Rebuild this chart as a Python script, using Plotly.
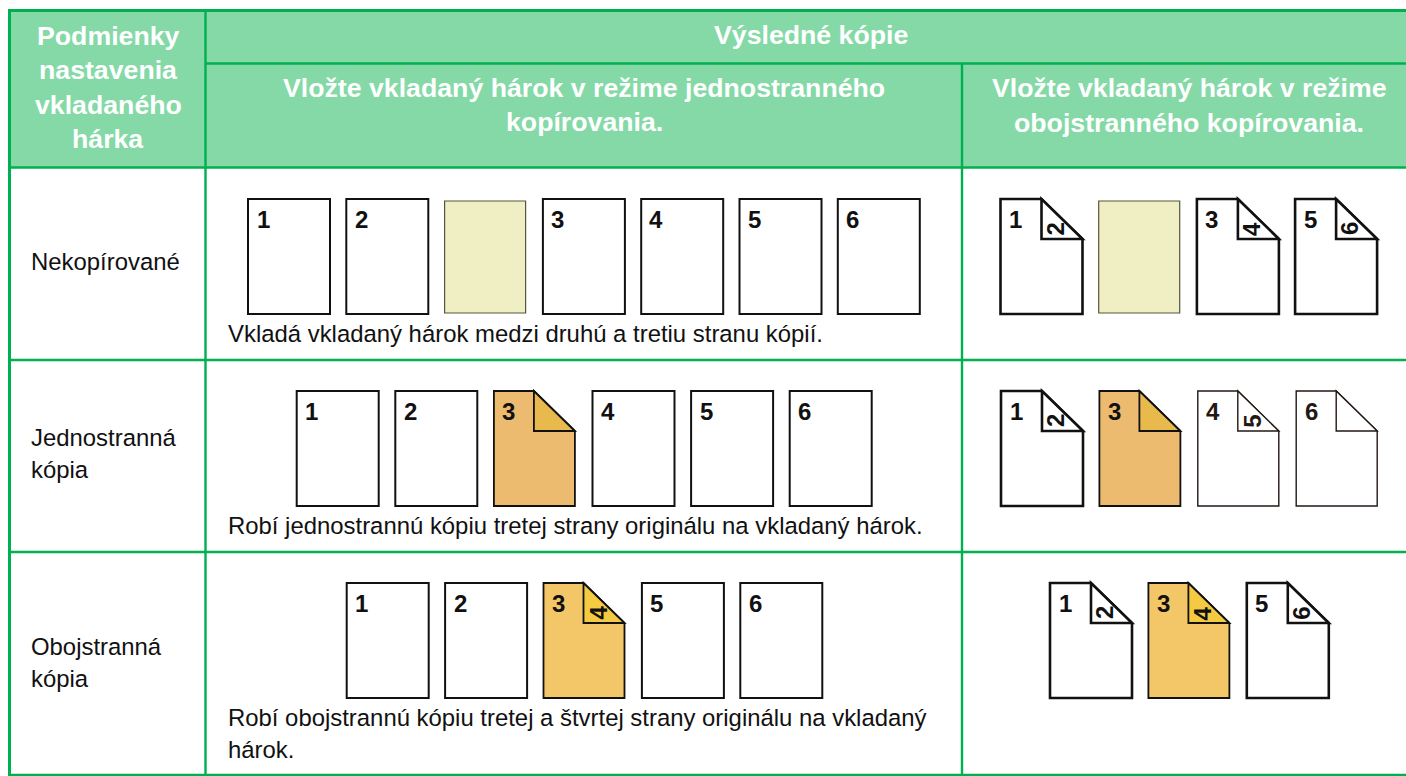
import plotly.graph_objects as go

FONT = "Liberation Sans"
GREEN = "#00B050"
HEAD_BG = "#84D9A7"
INK = "#111111"
SOFT_INK = "#231815"

# ---- text content ----
corner_lines = ["Podmienky", "nastavenia", "vkladaného", "hárka"]
top_header = "Výsledné kópie"
single_header = ["Vložte vkladaný hárok v režime jednostranného", "kopírovania."]
duplex_header = ["Vložte vkladaný hárok v režime", "obojstranného kopírovania."]
row_labels = [["Nekopírované"], ["Jednostranná", "kópia"], ["Obojstranná", "kópia"]]
row_captions = [
    ["Vkladá vkladaný hárok medzi druhú a tretiu stranu kópií."],
    ["Robí jednostrannú kópiu tretej strany originálu na vkladaný hárok."],
    ["Robí obojstrannú kópiu tretej a štvrtej strany originálu na vkladaný", "hárok."],
]

# ---- sheets in each cell: (front number, back number, colour key, thin outline) ----
row1_single = [("1", None, "white", 0), ("2", None, "white", 0), (None, None, "cream", 0), ("3", None, "white", 0),
               ("4", None, "white", 0), ("5", None, "white", 0), ("6", None, "white", 0)]
row2_single = [("1", None, "white", 0), ("2", None, "white", 0), ("3", "", "orange", 0),
               ("4", None, "white", 0), ("5", None, "white", 0), ("6", None, "white", 0)]
row3_single = [("1", None, "white", 0), ("2", None, "white", 0), ("3", "4", "gold", 0),
               ("5", None, "white", 0), ("6", None, "white", 0)]
row1_duplex = [("1", "2", "white", 0), (None, None, "cream", 0), ("3", "4", "white", 0), ("5", "6", "white", 0)]
row2_duplex = [("1", "2", "white", 0), ("3", "", "orange", 0), ("4", "5", "white", 1), ("6", "", "white", 1)]
row3_duplex = [("1", "2", "white", 0), ("3", "4", "gold", 0), ("5", "6", "white", 0)]

palette = {
    "white": ("#FFFFFF", "#FFFFFF"),
    "cream": ("#F0EFC3", "#F0EFC3"),
    "orange": ("#EDBB6F", "#E8BA4E"),
    "gold": ("#F3C768", "#F3CA41"),
}

SHEET_W, SHEET_H, FOLD = 82, 115, 41
# (sheets, left edge of the first sheet, top edge, horizontal pitch)
cells = [
    (row1_single, 248, 199, 98.3),
    (row2_single, 296.7, 391, 98.6),
    (row3_single, 346.7, 583, 98.4),
    (row1_duplex, 1000.5, 199, 98.2),
    (row2_duplex, 1001, 391, 98.4),
    (row3_duplex, 1050, 583, 98.4),
]

shapes, notes = [], []


def rect(x0, y0, x1, y1, fill):
    shapes.append(dict(type="rect", x0=x0, y0=y0, x1=x1, y1=y1, fillcolor=fill, line_width=0, layer="below"))


def rule(x0, y0, x1, y1, w=2.4):
    shapes.append(dict(type="line", x0=x0, y0=y0, x1=x1, y1=y1, line=dict(color=GREEN, width=w), layer="below"))


def text(x, y, s, size, color, bold=False, anchor="center", angle=0):
    notes.append(dict(x=x, y=y, text=f"<b>{s}</b>" if bold else s, showarrow=False, xanchor=anchor, yanchor="middle",
                      textangle=angle, font=dict(family=FONT, size=size, color=color), xref="x", yref="y",
                      borderpad=0, borderwidth=0))


def sheet(x, y, front, back, key, thin):
    fill, fold_fill = palette[key]
    colour = SOFT_INK if thin else INK
    r, b = x + SHEET_W, y + SHEET_H
    if key != "white" or thin:
        r -= 1
    if back is None:
        if key == "cream":
            shapes.append(dict(type="rect", x0=x, y0=y + 2, x1=r, y1=b - 1, fillcolor=fill,
                               line=dict(color="#55553F", width=1.2)))
        else:
            shapes.append(dict(type="rect", x0=x, y0=y, x1=r, y1=b, fillcolor=fill,
                               line=dict(color=colour, width=2.0)))
    else:
        lw = 1.4 if thin else (1.8 if key != "white" else 2.6)
        fx, fy = r - FOLD, y + FOLD - 1
        shapes.append(dict(type="path", path=f"M{x},{y} L{fx},{y} L{r},{fy} L{r},{b} L{x},{b} Z",
                           fillcolor=fill, line=dict(color=colour, width=lw)))
        shapes.append(dict(type="path", path=f"M{fx},{y} L{fx},{fy} L{r},{fy} Z",
                           fillcolor=fold_fill, line=dict(color=colour, width=lw)))
    if front:
        text(x + 15, y + 20, front, 24, colour, bold=True)
    if back:
        text(x + 54, y + 30, back, 24, colour, bold=True, angle=-90)


# header fill and table rules
rect(9, 10, 1406, 167, HEAD_BG)
rule(9.5, 9, 9.5, 776, 3)
rule(8, 10.5, 1406, 10.5, 3)
rule(8, 775, 1406, 775, 2.5)
for x0, y0, x1, y1 in [(205.5, 10, 205.5, 775), (962, 64, 962, 775),
                       (205, 63.5, 1406, 63.5), (8, 167.5, 1406, 167.5),
                       (8, 360, 1406, 360), (8, 552, 1406, 552)]:
    rule(x0, y0, x1, y1)

HEAD_SIZE = 26.7
BODY_SIZE = 23.9
for line, y in zip(corner_lines, [36, 70, 105, 139]):
    text(108, y, line, HEAD_SIZE, "#FFFFFF", bold=True)
text(811, 35, top_header, HEAD_SIZE, "#FFFFFF", bold=True)
for line, y in zip(single_header, [88, 122]):
    text(584, y, line, HEAD_SIZE, "#FFFFFF", bold=True)
for line, y in zip(duplex_header, [88, 123]):
    text(1189, y, line, HEAD_SIZE, "#FFFFFF", bold=True)

for lines, ys in zip(row_labels, [[261], [437, 469], [646, 678]]):
    for line, y in zip(lines, ys):
        text(31, y, line, BODY_SIZE, INK, anchor="left")
for lines, ys in zip(row_captions, [[333], [525], [717, 749]]):
    for line, y in zip(lines, ys):
        text(228, y, line, BODY_SIZE, INK, anchor="left")

for sheets, x0, y0, pitch in cells:
    for i, (front, back, key, thin) in enumerate(sheets):
        sheet(x0 + i * pitch, y0, front, back, key, thin)

fig = go.Figure()
fig.update_layout(
    width=1406, height=776, margin=dict(l=0, r=0, t=0, b=0, pad=0),
    paper_bgcolor="#FFFFFF", plot_bgcolor="#FFFFFF", showlegend=False,
    xaxis=dict(range=[0, 1406], visible=False, fixedrange=True),
    yaxis=dict(range=[776, 0], visible=False, fixedrange=True),
    shapes=shapes, annotations=notes,
)
fig.write_html("out.html", config={"displayModeBar": False},
               post_script="document.body.style.margin='0';document.body.style.overflow='hidden';")
